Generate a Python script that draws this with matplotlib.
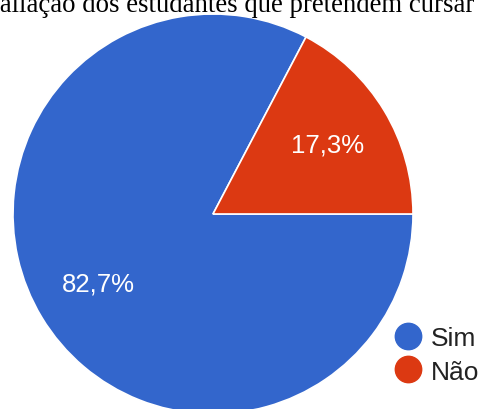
import matplotlib
matplotlib.use("Agg")
import matplotlib.pyplot as plt
from matplotlib.lines import Line2D

categories = ["Sim", "Não"]
values = [82.7, 17.3]
colors = ["#3366CC", "#DC3912"]
title = "Avaliação dos estudantes que pretendem cursar"

W, H, DPI = 480, 410, 100
fig = plt.figure(figsize=(W / DPI, H / DPI), dpi=DPI)
ax = fig.add_axes([0, 0, 1, 1])

# pie geometry in pixels
cx, cy, r = 213, 215, 200

wedges, texts, autotexts = ax.pie(
    values,
    colors=colors,
    startangle=0,
    counterclock=False,
    radius=1.0,
    autopct=lambda p: f"{p:.1f}%".replace(".", ","),
    pctdistance=0.67,
    wedgeprops=dict(edgecolor="white", linewidth=1.2),
    textprops=dict(color="white", fontsize=18.5, family="Liberation Sans"),
)
ax.set_xlim(-cx / r, (W - cx) / r)
ax.set_ylim(-(H - cy) / r, cy / r)
ax.set_aspect("equal")
ax.axis("off")

handles = [
    Line2D([], [], marker="o", linestyle="none", markersize=19,
           markerfacecolor=c, markeredgecolor=c)
    for c in colors
]
ax.legend(
    handles, categories,
    loc="center left",
    bbox_to_anchor=(382 / W, 1 - 356 / H),
    frameon=False,
    prop=dict(family="Liberation Sans", size=19),
    handlelength=1.0,
    handletextpad=0.35,
    labelspacing=0.35,
    borderpad=0,
    labelcolor="#222222",
)

fig.text(474 / W, 1 - 11.5 / H, title, ha="right", va="baseline",
         family="Liberation Serif", fontsize=19.3, color="black")

fig.savefig("out.png", dpi=DPI)
